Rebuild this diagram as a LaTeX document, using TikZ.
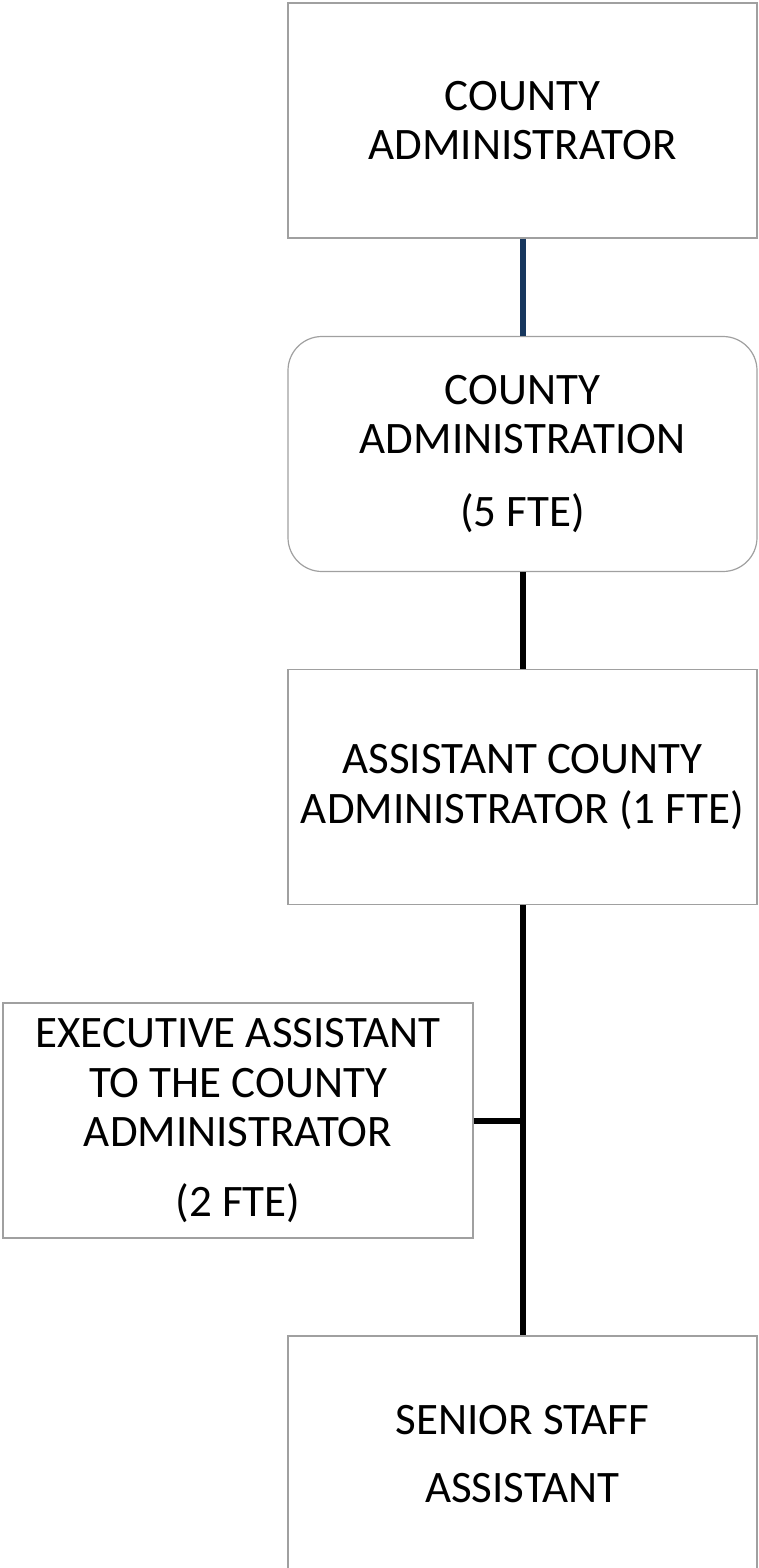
\documentclass[tikz,border=0pt]{standalone}
\usepackage{fontspec}
\setmainfont{Carlito}
\definecolor{boxline}{RGB}{160,160,160}
\definecolor{navyline}{RGB}{23,55,94}
\begin{document}
\begin{tikzpicture}[x=1pt,y=-1pt,
  orgbox/.style={draw=boxline, line width=1.2pt, fill=white, inner sep=0pt,
    minimum width=469pt, minimum height=235pt, align=center,
    font=\fontsize{45}{49.5}\selectfont},
  link/.style={line width=6pt, black}
]
\useasboundingbox (0,0) rectangle (758,1568);

\node[orgbox] (ca) at (522.5,120.5) {COUNTY\\ADMINISTRATOR};
\node[orgbox, rounded corners=34pt] (cad) at (522.5,454) {COUNTY\\ADMINISTRATION\\[23pt](5 FTE)};
\node[orgbox] (aca) at (522.5,787) {ASSISTANT COUNTY\\ADMINISTRATOR (1 FTE)};
\node[orgbox, minimum width=470pt] (ea) at (238,1120.5) {EXECUTIVE ASSISTANT\\TO THE COUNTY\\ADMINISTRATOR\\[20pt](2 FTE)};
\node[orgbox, minimum height=236pt] (ssa) at (522.5,1454) {SENIOR STAFF\\[19pt]ASSISTANT};

\draw[link, navyline] (ca.south) -- (cad.north);
\draw[link] (cad.south) -- (aca.north);
\draw[link] (aca.south) -- (ssa.north);
\draw[link] (ea.east) -- (ea.east -| aca.south);
\end{tikzpicture}
\end{document}
